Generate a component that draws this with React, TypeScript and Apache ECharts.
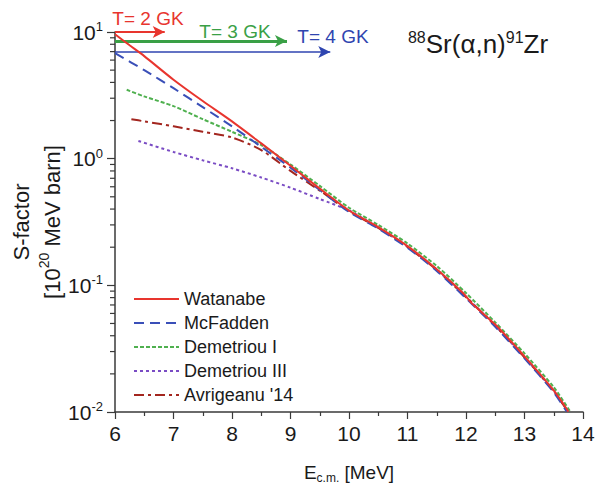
import React, { useEffect, useRef } from "react";
import * as echarts from "echarts";

// ---- data ----
const energyWatanabe = [6.0, 6.25, 6.5, 7.0, 7.5, 8.0, 8.5, 9.0, 9.5, 10.0, 10.5, 11.0, 11.5, 11.95, 12.1, 12.5, 13.0, 13.5, 13.75];
const watanabe = [9.6, 7.85, 6.45, 4.2, 2.85, 1.97, 1.32, 0.88, 0.58, 0.39, 0.288, 0.204, 0.134, 0.087, 0.072, 0.049, 0.0275, 0.0148, 0.0101];

const energyMcFadden = [6.0, 6.5, 7.0, 7.5, 8.0, 8.5, 9.0, 9.5, 10.0, 10.5, 11.0, 11.5, 12.0, 12.5, 13.0, 13.5, 13.72];
const mcFadden = [6.8, 5.0, 3.6, 2.55, 1.8, 1.24, 0.85, 0.565, 0.38, 0.28, 0.198, 0.13, 0.079, 0.047, 0.0265, 0.0143, 0.0101];

const energyDemetriouI = [6.2, 6.5, 7.0, 7.5, 8.0, 8.5, 9.0, 9.5, 10.0, 10.5, 11.0, 11.5, 12.0, 12.5, 13.0, 13.5, 13.78];
const demetriouI = [3.5, 3.1, 2.6, 2.05, 1.63, 1.28, 0.9, 0.61, 0.41, 0.3, 0.214, 0.142, 0.087, 0.051, 0.029, 0.0157, 0.0101];

const energyDemetriouIII = [6.4, 7.0, 7.5, 8.0, 8.5, 9.0, 9.5, 10.0, 10.5, 11.0, 11.5, 12.0, 12.5, 13.0, 13.5, 13.74];
const demetriouIII = [1.38, 1.13, 0.97, 0.84, 0.71, 0.59, 0.48, 0.39, 0.285, 0.202, 0.133, 0.081, 0.048, 0.027, 0.0146, 0.0101];

const energyAvrigeanu = [6.28, 6.5, 7.0, 7.5, 8.0, 8.5, 9.0, 9.5, 10.0, 10.5, 11.0, 11.5, 12.0, 12.5, 13.0, 13.5, 13.74];
const avrigeanu = [2.05, 1.97, 1.8, 1.63, 1.47, 1.17, 0.8, 0.56, 0.385, 0.284, 0.201, 0.132, 0.081, 0.048, 0.027, 0.0146, 0.0101];

// Gamow-window arrows: temperature label, end energy, S-factor level
const gamowLabels = ["T= 2 GK", "T= 3 GK", "T= 4 GK"];
const gamowEnd = [6.85, 8.94, 9.68];
const gamowLevel = [10, 8.5, 6.95];

const xTicks = [6, 7, 8, 9, 10, 11, 12, 13, 14];
const yMinorTicks = [
  0.02, 0.03, 0.04, 0.05, 0.06, 0.07, 0.08, 0.09,
  0.2, 0.3, 0.4, 0.5, 0.6, 0.7, 0.8, 0.9,
  2, 3, 4, 5, 6, 7, 8, 9,
];

const FONT = "Liberation Sans, Arial, Helvetica, sans-serif";
const AXIS_COLOR = "#3a3a3a";
const TEXT_COLOR = "#1a1a1a";

const C_RED = "#e8352e";
const C_BLUE = "#3a4fb8";
const C_GREEN = "#4fb04f";
const C_PURPLE = "#7a4cc4";
const C_DKRED = "#a3261f";
const gamowColors = [C_RED, "#3aa046", "#2f45b0"];
const gamowWidths = [2, 3, 1.6];

const zip = (xs: number[], ys: number[]) => xs.map((x, i) => [x, ys[i]]);

export default function App() {
  const ref = useRef<HTMLDivElement>(null);

  useEffect(() => {
    if (!ref.current) return;
    const chart = echarts.init(ref.current, undefined, { renderer: "svg" });

    const lineSeries = (name: string, data: number[][], color: string, type: any, z = 2) => ({
      name,
      type: "line",
      data,
      symbol: "none",
      smooth: 0.25,
      z,
      lineStyle: { color, width: 2, type },
      itemStyle: { color },
    });

    const arrowSeries = {
      name: "arrows",
      type: "line",
      data: [],
      markLine: {
        silent: true,
        symbol: ["none", "arrow"],
        symbolSize: [9, 12],
        label: { show: false },
        data: gamowEnd.map((e, i) => [
          { coord: [6, gamowLevel[i]], lineStyle: { color: gamowColors[i], width: gamowWidths[i], type: "solid" } },
          { coord: [e, gamowLevel[i]] },
        ]),
      },
    };

    const minorTickSeries = {
      name: "minorTicks",
      type: "custom",
      silent: true,
      clip: false,
      z: 10,
      data: yMinorTicks.map((v) => [6, v]),
      renderItem: (_p: any, api: any) => {
        const pt = api.coord([api.value(0), api.value(1)]);
        return {
          type: "line",
          shape: { x1: pt[0] - 5, y1: pt[1], x2: pt[0], y2: pt[1] },
          style: { stroke: AXIS_COLOR, lineWidth: 1.2 },
        };
      },
    };

    const option: any = {
      animation: false,
      backgroundColor: "#ffffff",
      textStyle: { fontFamily: FONT },
      grid: { left: 115, right: 13, top: 32, bottom: 75, outerBoundsMode: "none" },
      xAxis: {
        type: "value",
        min: xTicks[0],
        max: xTicks[xTicks.length - 1],
        interval: 1,
        splitLine: { show: false },
        axisLine: { lineStyle: { color: AXIS_COLOR, width: 1.5 } },
        axisTick: { show: true, inside: false, length: 7, lineStyle: { color: AXIS_COLOR, width: 1.2 } },
        minorTick: { show: true, splitNumber: 2, length: 4, lineStyle: { color: AXIS_COLOR, width: 1.2 } },
        axisLabel: { color: TEXT_COLOR, fontSize: 21, margin: 11, fontFamily: FONT },
        name: "{a|E}{sub|c.m.}{a| [MeV]}",
        nameLocation: "middle",
        nameGap: 48,
        nameTextStyle: {
          rich: {
            a: { fontSize: 19, color: TEXT_COLOR, fontFamily: FONT, lineHeight: 24 },
            sub: { fontSize: 12, color: TEXT_COLOR, fontFamily: FONT, verticalAlign: "bottom", lineHeight: 24, padding: [8, 0, 0, 0] },
          },
        },
      },
      yAxis: {
        type: "log",
        logBase: 10,
        min: 0.01,
        max: 10,
        splitLine: { show: false },
        axisLine: { show: true, lineStyle: { color: AXIS_COLOR, width: 1.5 } },
        axisTick: { show: true, inside: false, length: 8, lineStyle: { color: AXIS_COLOR, width: 1.2 } },
        axisLabel: {
          margin: 12,
          formatter: (v: number) => "{b|10}{sup|" + Math.round(Math.log10(v)) + "}",
          rich: {
            b: { fontSize: 21, color: TEXT_COLOR, fontFamily: FONT, lineHeight: 24 },
            sup: { fontSize: 13, color: TEXT_COLOR, fontFamily: FONT, verticalAlign: "top", lineHeight: 24, padding: [0, 0, 8, 0] },
          },
        },
      },
      legend: {
        orient: "vertical",
        left: 128,
        top: 285,
        itemWidth: 45,
        itemHeight: 14,
        itemGap: 6,
        itemStyle: { opacity: 0 },
        data: ["Watanabe", "McFadden", "Demetriou I", "Demetriou III", "Avrigeanu '14"],
        textStyle: { fontSize: 18, color: TEXT_COLOR, fontFamily: FONT, lineHeight: 18 },
      },
      series: [
        lineSeries("Demetriou III", zip(energyDemetriouIII, demetriouIII), C_PURPLE, [3, 3], 2),
        lineSeries("Avrigeanu '14", zip(energyAvrigeanu, avrigeanu), C_DKRED, [10, 4, 3, 4], 3),
        lineSeries("Demetriou I", zip(energyDemetriouI, demetriouI), C_GREEN, [4, 2], 4),
        lineSeries("McFadden", zip(energyMcFadden, mcFadden), C_BLUE, [10, 6], 5),
        lineSeries("Watanabe", zip(energyWatanabe, watanabe), C_RED, "solid", 6),
        arrowSeries,
        minorTickSeries,
      ],
      graphic: [
        {
          type: "text",
          x: 148, y: 18,
          style: { text: gamowLabels[0], fill: gamowColors[0], fontSize: 19, fontFamily: FONT, align: "center", verticalAlign: "middle" },
        },
        {
          type: "text",
          x: 235, y: 31,
          style: { text: gamowLabels[1], fill: gamowColors[1], fontSize: 19, fontFamily: FONT, align: "center", verticalAlign: "middle" },
        },
        {
          type: "text",
          x: 333, y: 36,
          style: { text: gamowLabels[2], fill: gamowColors[2], fontSize: 19, fontFamily: FONT, align: "center", verticalAlign: "middle" },
        },
        {
          type: "text",
          x: 478, y: 44,
          style: {
            text: "{s|88}{m|Sr(α,n)}{s|91}{m|Zr}",
            align: "center",
            verticalAlign: "middle",
            rich: {
              m: { fontSize: 26, fill: TEXT_COLOR, fontFamily: FONT, lineHeight: 30 },
              s: { fontSize: 16, fill: TEXT_COLOR, fontFamily: FONT, verticalAlign: "top", lineHeight: 30, padding: [0, 0, 10, 0] },
            },
          },
        },
        {
          type: "text",
          x: 37, y: 222,
          rotation: Math.PI / 2,
          style: {
            text: "{a|S-factor}\n{a|[10}{s|20}{a| MeV barn]}",
            align: "center",
            verticalAlign: "middle",
            rich: {
              a: { fontSize: 22, fill: TEXT_COLOR, fontFamily: FONT, lineHeight: 31 },
              s: { fontSize: 14, fill: TEXT_COLOR, fontFamily: FONT, verticalAlign: "top", lineHeight: 31, padding: [0, 0, 9, 0] },
            },
          },
        },
      ],
    };

    chart.setOption(option);
    return () => chart.dispose();
  }, []);

  return (
    <div
      ref={ref}
      style={{ position: "fixed", left: 0, top: 0, width: 596, height: 487, background: "#fff" }}
    />
  );
}
